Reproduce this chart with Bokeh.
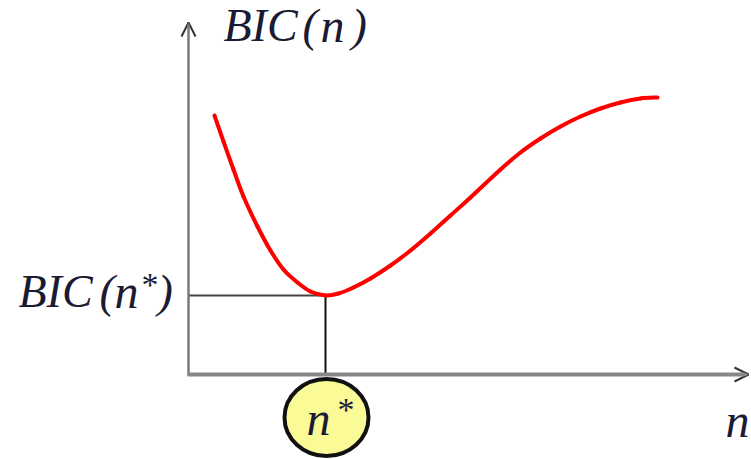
from bokeh.plotting import figure
from bokeh.models import Range1d, Arrow, OpenHead, ColumnDataSource
from bokeh.core.properties import value
from bokeh.embed import file_html
from bokeh.resources import INLINE

# BIC as a function of model size n (schematic curve)
n_vals = [26, 35, 45, 55, 69, 82, 95, 109, 122, 137, 150, 165, 182, 202, 222,
          242, 262, 282, 312, 332, 352, 372, 392, 412, 432, 452, 469]
bic_vals = [259, 233, 205, 178, 148, 124, 105, 92, 83, 79, 81, 87, 96, 109, 124,
            141, 159, 177, 205, 222, 236, 248, 258, 266, 272, 276, 277]

# location of the minimum
n_star = 137
bic_star = 79

# axis extents
x_axis_end = 560
y_axis_end = 352

p = figure(width=751, height=459, output_backend="svg", toolbar_location=None,
           x_range=Range1d(-188, 563), y_range=Range1d(-85, 374),
           min_border=0, outline_line_color=None)
p.axis.visible = False
p.grid.visible = False
p.background_fill_color = "white"

font = value("Liberation Serif")
ink = "#1a1a33"

# axes with open arrowheads
p.add_layout(Arrow(end=OpenHead(size=14, line_color="#333333", line_width=2),
                   x_start=0, y_start=-1, x_end=0, y_end=y_axis_end,
                   line_color="#7a7a7a", line_width=2.5))
p.add_layout(Arrow(end=OpenHead(size=14, line_color="#333333", line_width=2),
                   x_start=-1, y_start=0, x_end=x_axis_end, y_end=0,
                   line_color="#888888", line_width=4))

# guides to the minimum
p.line([0, n_star], [bic_star, bic_star], line_color="#444444", line_width=2)
p.line([n_star, n_star], [bic_star, 0], line_color="#111111", line_width=2)

# the curve: smooth Catmull-Rom pieces through the points, drawn as cubic Beziers
x0, y0, x1, y1, cx0, cy0, cx1, cy1 = ([] for _ in range(8))
last = len(n_vals) - 1
for i in range(last):
    a = max(i - 1, 0)
    d = min(i + 2, last)
    x0.append(n_vals[i]); y0.append(bic_vals[i])
    x1.append(n_vals[i + 1]); y1.append(bic_vals[i + 1])
    cx0.append(n_vals[i] + (n_vals[i + 1] - n_vals[a]) / 6)
    cy0.append(bic_vals[i] + (bic_vals[i + 1] - bic_vals[a]) / 6)
    cx1.append(n_vals[i + 1] - (n_vals[d] - n_vals[i]) / 6)
    cy1.append(bic_vals[i + 1] - (bic_vals[d] - bic_vals[i]) / 6)
curve = ColumnDataSource(data=dict(x0=x0, y0=y0, x1=x1, y1=y1,
                                   cx0=cx0, cy0=cy0, cx1=cx1, cy1=cy1))
p.bezier("x0", "y0", "x1", "y1", "cx0", "cy0", "cx1", "cy1", source=curve,
         line_color="#ff0000", line_width=4, line_cap="round")

# marker for n* on the n axis
p.ellipse([n_star + 1], [-43], width=84, height=77, fill_color="#fafa96",
          line_color="#111111", line_width=4)

def label(x, y, s, size="46px", italic=True):
    p.text([x], [y], text=[s], text_font=font,
           text_font_style="italic" if italic else "normal",
           text_font_size=size, text_color=ink,
           text_baseline="alphabetic", text_align="left")

# y-axis title: BIC(n)
label(35, 349, "BIC")
label(114, 349, "(")
label(132, 349, "n", size="48px")
label(163, 349, ")")

# value at the minimum: BIC(n*)
label(-170, 83, "BIC")
label(-89, 83, "(")
label(-74, 83, "n", size="48px")
label(-47, 90, "*", size="34px", italic=False)
label(-31, 83, ")")

# n* inside the marker
label(118, -44, "n", size="48px")
label(149, -35, "*", size="34px", italic=False)

# x-axis title
label(537, -46, "n", size="48px")

open("out.html", "w").write(file_html(p, INLINE))
